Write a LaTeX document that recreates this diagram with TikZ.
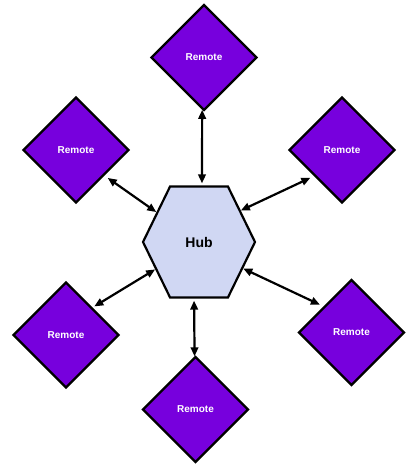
\documentclass[tikz,border=0pt]{standalone}
\usepackage{fontspec}
\setmainfont{Liberation Sans}
\usepackage{tikz}
\usetikzlibrary{arrows.meta,shapes.geometric,shapes.symbols,patterns.meta}
\definecolor{rmt}{RGB}{119,0,221}
\definecolor{dot}{RGB}{50,80,205}

\begin{document}
\begin{tikzpicture}[x=1pt,y=-1pt,>={Triangle[length=9pt,width=7.5pt]},
  rmt/.style={diamond,draw,line width=2.2pt,fill=rmt,aspect=1,minimum width=106pt,minimum height=106pt,
              inner sep=0pt,text=white,font=\fontsize{10}{12}\selectfont\bfseries},
  hubs/.style={signal,signal to=east and west,signal pointer angle=128,draw,line width=2.2pt,
              pattern={Dots[distance=2pt,radius=0.6pt]},pattern color=dot,
              minimum width=112pt,minimum height=111pt,inner sep=0pt,
              font=\fontsize{14}{16}\selectfont\bfseries},
  lnk/.style={<->,line width=2.2pt}]
  \useasboundingbox (0,0) rectangle (410,471);

  % ---------- hub and remotes ----------
  \node[hubs] (hub) at (199,242) {Hub};
  \node[rmt] (r1) at (204,57.5) {Remote};
  \node[rmt] (r2) at (76,150) {Remote};
  \node[rmt] (r3) at (342,150) {Remote};
  \node[rmt] (r4) at (66,335) {Remote};
  \node[rmt] (r5) at (351.5,332.5) {Remote};
  \node[rmt] (r6) at (195.5,409.5) {Remote};

  % ---------- links ----------
  \draw[lnk,shorten <=2pt] (hub.87) -- (r1.-92);
  \draw[lnk,shorten >=4pt] (hub.145) -- (r2.-42);
  \draw[lnk,shorten >=4pt] (hub.37) -- (r3.-137);
  \draw[lnk,shorten >=2pt] (hub.-148) -- (r4.46);
  \draw[lnk,shorten >=4pt] (hub.-31) -- (r5.137);
  \draw[lnk,shorten <=2pt] (hub.-95) -- (r6.91);
\end{tikzpicture}
\end{document}
